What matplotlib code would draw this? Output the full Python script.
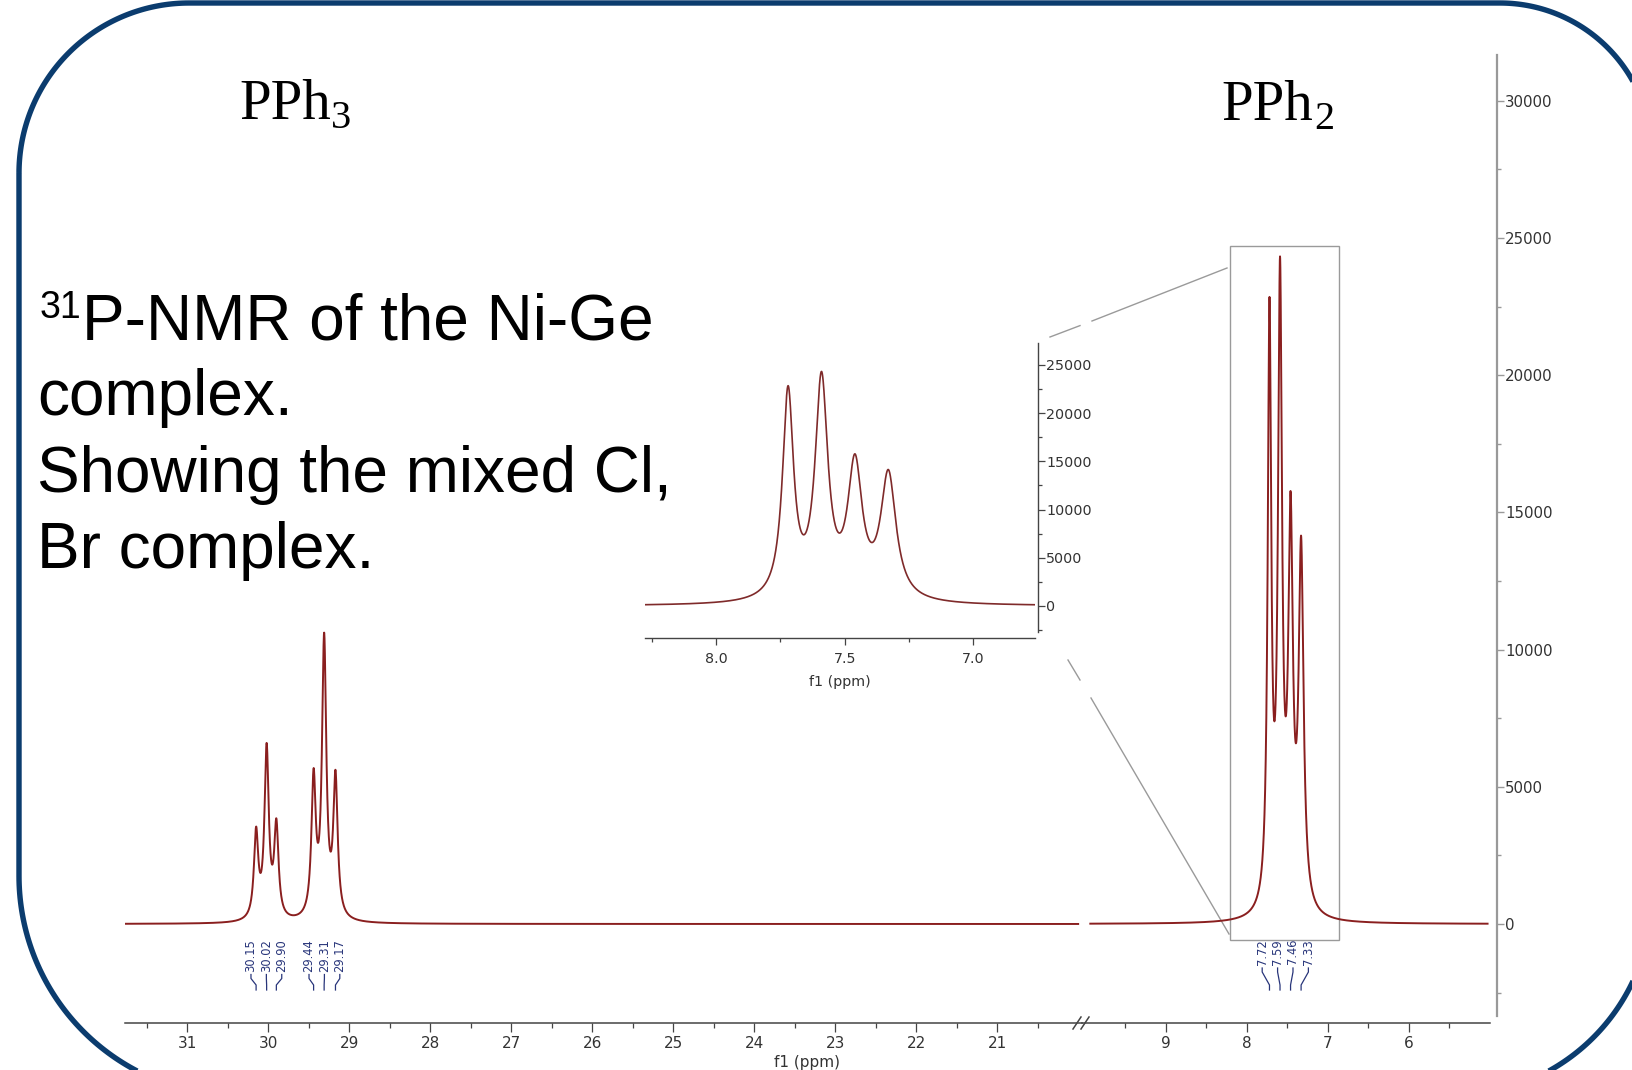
import numpy as np
import matplotlib
matplotlib.use("Agg")
import matplotlib.pyplot as plt
from matplotlib.patches import Polygon, Rectangle
from matplotlib import transforms
from matplotlib.ticker import FixedLocator

plt.rcParams['font.family'] = ['DejaVu Sans']

# ---------------- data ----------------
pph3_groups = [[30.15, 30.02, 29.90], [29.44, 29.31, 29.17]]
pph3_heights = [3550, 6600, 3850, 5680, 10620, 5620]
pph3_halfwidths = [0.032, 0.032, 0.032, 0.032, 0.032, 0.032]
pph2_groups = [[7.72, 7.59, 7.46, 7.33]]
pph2_heights = [22850, 24330, 15780, 14150]
pph2_halfwidths = [0.026, 0.030, 0.034, 0.036]

left_xticks = [31, 30, 29, 28, 27, 26, 25, 24, 23, 22, 21]
left_xminor = [31.5, 30.5, 29.5, 28.5, 27.5, 26.5, 25.5, 24.5, 23.5, 22.5, 21.5, 20.5]
right_xticks = [9, 8, 7, 6]
right_xminor = [9.5, 8.5, 7.5, 6.5, 5.5]
main_yticks = [0, 5000, 10000, 15000, 20000, 25000, 30000]
main_yminor = [-2500, 2500, 7500, 12500, 17500, 22500, 27500]
inset_xticks = [8.0, 7.5, 7.0]
inset_xlabels = ['8.0', '7.5', '7.0']
inset_xminor = [8.25, 7.75, 7.25]
inset_yticks = [0, 5000, 10000, 15000, 20000, 25000]
inset_yminor = [-2500, 2500, 7500, 12500, 17500, 22500]

title_lines = ["P-NMR of the Ni-Ge", "complex.", "Showing the mixed Cl,", "Br complex."]

W, H = 1632, 1070
TRACE = '#8a1f1f'
LABEL = '#28357a'
TXT = '#333333'


def lorentz(x, x0, g):
    return 1.0 / (1.0 + ((x - x0) / g) ** 2)


def spectrum(x, shifts, heights, widths):
    s = np.asarray(shifts, float)
    h = np.asarray(heights, float)
    g = np.asarray(widths, float)
    M = lorentz(s[:, None], s[None, :], g[None, :])
    amps = np.linalg.solve(M, h)
    return (amps[None, :] * lorentz(x[:, None], s[None, :], g[None, :])).sum(axis=1)


pph3_shifts = [v for grp in pph3_groups for v in grp]
pph2_shifts = [v for grp in pph2_groups for v in grp]


def full(x):
    return (spectrum(x, pph3_shifts, pph3_heights, pph3_halfwidths)
            + spectrum(x, pph2_shifts, pph2_heights, pph2_halfwidths))


fig = plt.figure(figsize=(W / 100, H / 100), dpi=100)
bg = fig.add_axes([0, 0, 1, 1], zorder=0)
bg.set_xlim(0, W)
bg.set_ylim(H, 0)
bg.axis('off')


def box(x0, y0, x1, y1):
    return [x0 / W, 1 - y1 / H, (x1 - x0) / W, (y1 - y0) / H]


# rounded frame
def arc(cx, cy, r, a0, a1, n=80):
    t = np.radians(np.linspace(a0, a1, n))
    return np.column_stack([cx + r * np.cos(t), cy + r * np.sin(t)])


L, T, R, B = 19, 3, 1652, 1096
pts = np.vstack([arc(L + 170, T + 170, 170, 180, 270),
                 arc(R - 152, T + 152, 152, 270, 360),
                 arc(R - 200, B - 200, 200, 0, 90),
                 arc(L + 220, B - 220, 220, 90, 180)])
bg.add_patch(Polygon(pts, closed=True, fill=False, edgecolor='#0b3c6e', lw=3.9, clip_on=False))

# ---------------- main axes ----------------
ylo, yhi = -3353, 31669
ax1 = fig.add_axes(box(124.9, 55, 1082.2, 1016), zorder=2)
ax2 = fig.add_axes(box(1082.2, 55, 1490, 1016), zorder=2)
for ax in (ax1, ax2):
    ax.set_facecolor('none')
    ax.set_ylim(ylo, yhi)
    for sp in ('top', 'left', 'right'):
        ax.spines[sp].set_visible(False)
    ax.spines['bottom'].set_position(('outward', 5))
    ax.spines['bottom'].set_color('#444444')
    ax.spines['bottom'].set_linewidth(1.1)
    ax.tick_params(axis='x', which='major', direction='out', length=6.5, width=0.9,
                   color='#444444', labelsize=11, labelcolor=TXT, pad=3.2)
    ax.tick_params(axis='x', which='minor', direction='out', length=3.6, width=0.9, color='#444444')

ax1.set_xlim(31.77, 19.95)
ax2.set_xlim(10.03, 5.0)
ax1.xaxis.set_major_locator(FixedLocator(left_xticks))
ax1.xaxis.set_minor_locator(FixedLocator(left_xminor))
ax1.set_xticklabels([str(v) for v in left_xticks])
ax2.xaxis.set_major_locator(FixedLocator(right_xticks))
ax2.xaxis.set_minor_locator(FixedLocator(right_xminor))
ax2.set_xticklabels([str(v) for v in right_xticks])
ax1.set_yticks([])

ax2.spines['right'].set_visible(True)
ax2.spines['right'].set_position(('outward', 4.75))
ax2.spines['right'].set_color('#999999')
ax2.spines['right'].set_linewidth(1.6)
ax2.yaxis.tick_right()
ax2.yaxis.set_major_locator(FixedLocator(main_yticks))
ax2.yaxis.set_minor_locator(FixedLocator(main_yminor))
ax2.set_yticklabels([str(v) for v in main_yticks])
ax2.tick_params(axis='y', which='major', direction='out', length=5, width=1, color='#999999',
                labelsize=10.8, labelcolor=TXT, pad=1)
ax2.tick_params(axis='y', which='minor', direction='out', length=3, width=1, color='#999999')

x_left = np.linspace(31.77, 20.0, 8000)
x_right = np.linspace(9.93, 5.03, 6000)
ax1.plot(x_left, full(x_left), color=TRACE, lw=1.4)
ax2.plot(x_right, full(x_right), color=TRACE, lw=1.4)

# zoom rectangle
ax2.add_patch(Rectangle((8.212, -583), 6.863 - 8.212, 24700 + 583, fill=False,
                        edgecolor='#9a9a9a', lw=1.0))

# axis break mark
for dx in (0, 8):
    bg.plot([1073 + dx, 1081 + dx], [1029, 1017], color='#444444', lw=1.1)

fig.text(807 / W, 1 - 1063 / H, 'f1 (ppm)', ha='center', va='center', fontsize=11, color=TXT)


# peak labels
def peak_labels(ax, groups, spacing=0.19):
    tr = transforms.blended_transform_factory(ax.transData, bg.transData)
    for grp in groups:
        n = len(grp)
        c = np.mean(grp)
        for i, s in enumerate(grp):
            xl = c + ((n - 1) / 2 - i) * spacing
            lab = f'{s:.2f}'
            ax.text(xl, 939, lab, transform=tr, rotation=90, ha='center', va='top',
                    fontsize=8.3, color=LABEL, clip_on=False)
            y0 = 939 + 6.5 * len(lab) + 3
            ax.plot([xl, xl, s, s], [y0, y0 + 4, 985, 990], transform=tr, color=LABEL,
                    lw=0.9, clip_on=False)


peak_labels(ax1, pph3_groups)
peak_labels(ax2, pph2_groups)

# ---------------- inset ----------------
axi = fig.add_axes(box(645, 343, 1035, 632), zorder=3)
axi.set_facecolor('none')
axi.set_xlim(8.276, 6.76)
axi.set_ylim(-2700, 27280)
for sp in ('top', 'left'):
    axi.spines[sp].set_visible(False)
axi.spines['bottom'].set_position(('outward', 4.3))
axi.spines['right'].set_position(('outward', 2.2))
for sp in ('bottom', 'right'):
    axi.spines[sp].set_color('#444444')
    axi.spines[sp].set_linewidth(1.0)
axi.yaxis.tick_right()
axi.xaxis.set_major_locator(FixedLocator(inset_xticks))
axi.xaxis.set_minor_locator(FixedLocator(inset_xminor))
axi.set_xticklabels(inset_xlabels)
axi.yaxis.set_major_locator(FixedLocator(inset_yticks))
axi.yaxis.set_minor_locator(FixedLocator(inset_yminor))
axi.set_yticklabels([str(v) for v in inset_yticks])
axi.tick_params(axis='both', which='major', direction='out', length=5, width=0.9,
                color='#444444', labelsize=10.3, labelcolor=TXT)
axi.tick_params(axis='both', which='minor', direction='out', length=3, width=0.9, color='#444444')
axi.tick_params(axis='x', pad=5)
axi.tick_params(axis='y', pad=1)
x_in = np.linspace(8.276, 6.76, 3000)
axi.plot(x_in, full(x_in), color='#7f2a2a', lw=1.2)
fig.text(840 / W, 1 - 682 / H, 'f1 (ppm)', ha='center', va='center', fontsize=10.3, color=TXT)

# connector lines
for seg in ([(1050, 337), (1080, 325.6)], [(1092, 321), (1227, 268)],
            [(1068, 660), (1080, 680)], [(1091, 698), (1229, 934)]):
    (xa, ya), (xb, yb) = seg
    bg.plot([xa, xb], [ya, yb], color='#9a9a9a', lw=1.0)

# ---------------- texts ----------------
bg.text(40, 318.5, '31', fontsize=27, family='Liberation Sans', va='baseline', ha='left')
bg.text(82, 339, title_lines[0], fontsize=46, family='Liberation Sans', va='baseline', ha='left')
for line, yb in zip(title_lines[1:], (415, 492, 568)):
    bg.text(37, yb, line, fontsize=46, family='Liberation Sans', va='baseline', ha='left')

bg.text(239, 119, 'PPh', fontsize=41, family='Liberation Serif', va='baseline', ha='left')
bg.text(331, 128, '3', fontsize=29, family='Liberation Serif', va='baseline', ha='left')
bg.text(1221, 120, 'PPh', fontsize=41, family='Liberation Serif', va='baseline', ha='left')
bg.text(1314, 129, '2', fontsize=29, family='Liberation Serif', va='baseline', ha='left')

fig.savefig('out.png', dpi=100)
